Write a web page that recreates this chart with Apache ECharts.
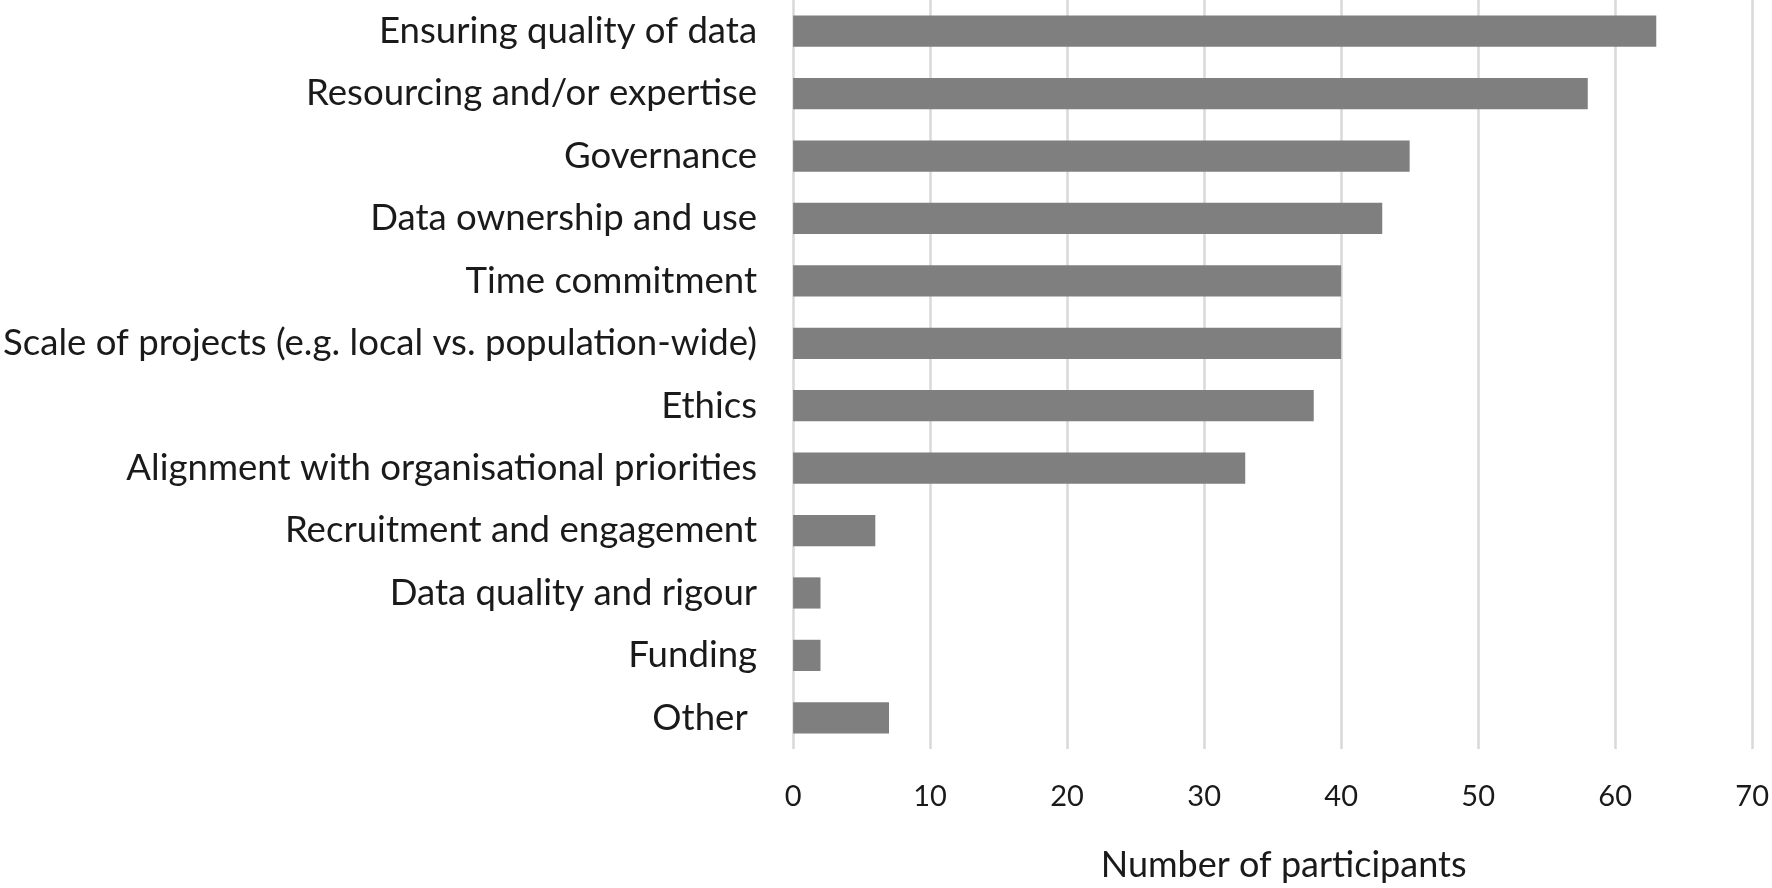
<!DOCTYPE html>
<html><head><meta charset="utf-8">
<script src="https://cdn.jsdelivr.net/npm/echarts@6/dist/echarts.min.js"></script>
<style>html,body{margin:0;padding:0;background:#fff}#c{width:1772px;height:888px}</style>
</head><body><div id="c"></div>
<script>
const categories = [
  "Ensuring quality of data",
  "Resourcing and/or expertise",
  "Governance",
  "Data ownership and use",
  "Time commitment",
  "Scale of projects (e.g. local vs. population-wide)",
  "Ethics",
  "Alignment with organisational priorities",
  "Recruitment and engagement",
  "Data quality and rigour",
  "Funding",
  "Other "
];
const participants = [63, 58, 45, 43, 40, 40, 38, 33, 6, 2, 2, 7];
const xTicks = [0, 10, 20, 30, 40, 50, 60, 70];
const axisTitle = "Number of participants";

const FONT = "Lato";
const chart = echarts.init(document.getElementById('c'), null, {renderer: 'canvas'});
chart.setOption({
  animation: false,
  backgroundColor: '#ffffff',
  grid: {left: 792, right: 18, top: 0, bottom: 136, containLabel: false},
  xAxis: {
    type: 'value', min: xTicks[0], max: xTicks[xTicks.length - 1], interval: 10,
    name: axisTitle, nameLocation: 'middle', nameGap: 98,
    nameTextStyle: {fontFamily: FONT, fontSize: 36, color: '#1a1a1a', padding: [0, 0, 0, 22]},
    axisLine: {show: false}, axisTick: {show: false},
    axisLabel: {fontFamily: FONT, fontSize: 29, color: '#1a1a1a', margin: 33},
    splitLine: {show: true, lineStyle: {color: '#d9d9d9', width: 2.5}}
  },
  yAxis: {
    type: 'category', data: categories, inverse: true,
    axisLine: {show: false}, axisTick: {show: false},
    axisLabel: {fontFamily: FONT, fontSize: 36.6, color: '#1a1a1a', margin: 36}
  },
  series: [{
    type: 'bar', data: participants, barCategoryGap: '50%',
    itemStyle: {color: '#7f7f7f'}
  }]
});
</script></body></html>
